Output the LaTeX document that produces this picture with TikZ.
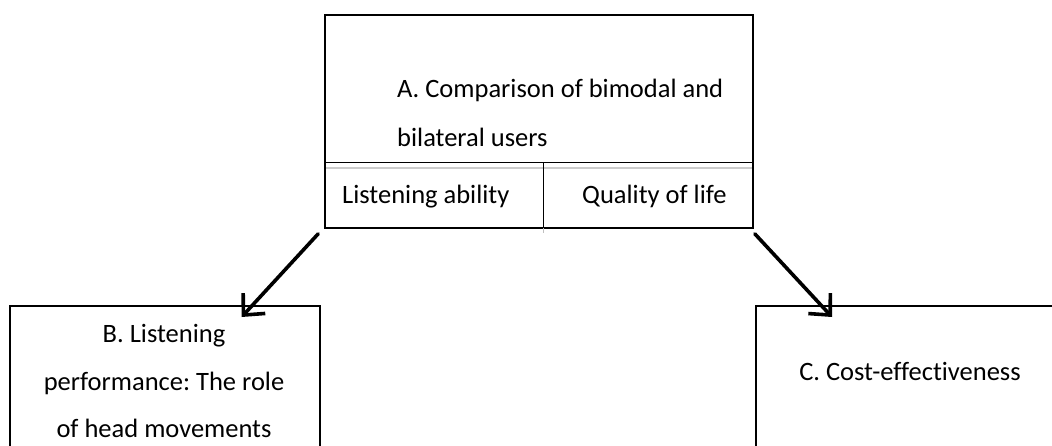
\documentclass[tikz,border=0pt]{standalone}
\usepackage{fontspec}
\setmainfont[Ligatures=NoCommon]{Carlito}
\frenchspacing
\usetikzlibrary{arrows.meta}
\begin{document}
\begin{tikzpicture}[x=1pt,y=-1pt,
  box/.style={draw,line width=1.6pt,rectangle,inner sep=0pt},
  txt/.style={inner sep=0pt,font=\fontsize{26.5}{30}\selectfont},
  link/.style={line width=3.6pt,line cap=round,
    -{Straight Barb[length=16pt,width=30pt,line width=3.6pt]}}]
\useasboundingbox (0,0) rectangle (1052,446);
\clip (0,0) rectangle (1052,446);
\fill[white] (0,0) rectangle (1052,446);

% boxes
\node[box,minimum width=428pt,minimum height=213pt] (A) at (539,121.5) {};
\node[box,minimum width=310pt,minimum height=200pt,anchor=north west] (B) at (9,305) {};
\node[box,minimum width=310pt,minimum height=200pt,anchor=north west] (C) at (755,305) {};

% table rule and column divider inside box A
\draw[line width=1pt] (325,163) -- (753,163);
\draw[line width=2pt,gray!40] (326,168.5) -- (752,168.5);
\draw[line width=1pt] (543,163) -- (543,228);
\draw[line width=1pt,gray!50] (543,228) -- (543,233);

% texts
\node[txt,anchor=base west] (a1) at (397,98) {A. Comparison of bimodal and};
\node[txt,anchor=base west] (a2) at (397,147) {bilateral users};
\node[txt,anchor=base west] (a3) at (342,204) {Listening ability};
\node[txt,anchor=base west] (a4) at (582,204) {Quality of life};
\node[txt,anchor=base] (b1) at (164,342) {B. Listening};
\node[txt,anchor=base] (b2) at (164,390) {performance: The role};
\node[txt,anchor=base] (b3) at (164,437) {of head movements};
\node[txt,anchor=base] (c1) at (910,380) {C. Cost-effectiveness};

% arrows
\draw[link] ([shift={(-6,5)}]A.south west) -- ([shift={(-79,12)}]B.north east);
\draw[link] ([shift={(1,5)}]A.south east) -- ([shift={(77,12)}]C.north west);
\end{tikzpicture}
\end{document}
